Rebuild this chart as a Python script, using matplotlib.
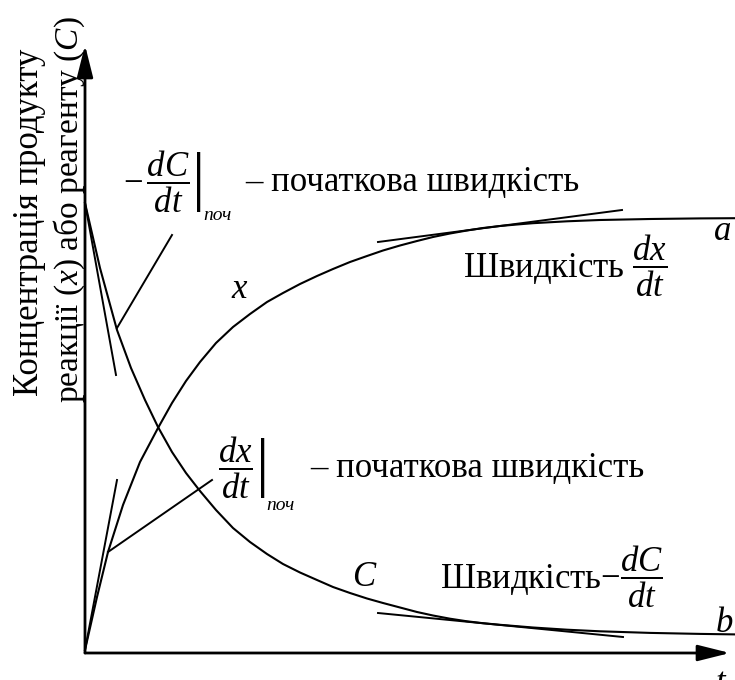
import matplotlib
matplotlib.use('Agg')
import matplotlib.pyplot as plt

plt.rcParams['font.family'] = ['Liberation Serif', 'DejaVu Serif']
plt.rcParams['mathtext.fontset'] = 'custom'
plt.rcParams['mathtext.rm'] = 'Liberation Serif'
plt.rcParams['mathtext.it'] = 'Liberation Serif:italic'
plt.rcParams['mathtext.bf'] = 'Liberation Serif:bold'

# arbitrary units: time t and concentration

# product concentration x(t)
t_x = [0, 12, 23, 38, 55, 73, 87, 101, 115, 131, 148, 165, 182, 198, 215, 232,
       248, 265, 282, 298, 315, 332, 348, 365, 382, 398, 415, 432, 448, 482,
       515, 565, 615, 650]
conc_x = [3, 56, 101, 148, 191, 225, 250, 272, 291, 310, 326, 339, 351, 360,
          369, 377, 384, 391, 397, 402.5, 407.5, 412, 416, 419.5, 422.5, 425,
          427, 428.5, 429.8, 431.7, 433, 434, 434.6, 434.8]

# reagent concentration C(t)
t_c = [0, 15, 32, 46, 60, 73, 87, 101, 115, 131, 148, 165, 182, 198, 215, 232,
       248, 265, 282, 298, 315, 332, 348, 365, 382, 398, 415, 448, 482, 515,
       565, 615, 650]
conc_c = [450, 385, 323, 285, 253, 226, 201, 180, 162, 143, 125, 111, 99, 89,
          80.5, 73, 66, 60, 54.5, 50, 45.5, 41, 37.5, 34.3, 31.7, 29.8, 28.2,
          25.5, 23.3, 21.7, 20.1, 19.1, 18.6]

# tangents (t pair, conc pair)
tan_c0 = ([0, 31], [450, 278])
tan_x0 = ([0, 32], [3, 173])
tan_x1 = ([293, 537], [411, 443])
tan_c1 = ([293, 538], [40, 16])
# leader lines to the formulas
lead_c = ([87, 32], [418, 325])
lead_x = ([23, 127], [101, 173])

t_max = 645
c_max = 608

fig = plt.figure(figsize=(7.35, 6.8), dpi=100)
ax = fig.add_axes([0, 0, 1, 1])
ax.set_xlim(-85, 650)
ax.set_ylim(-27, 653)
ax.axis('off')

ax.plot(t_x, conc_x, color='black', lw=1.5)
ax.plot(t_c, conc_c, color='black', lw=1.5)
for xs, ys in [tan_c0, tan_x0, tan_x1, tan_c1, lead_c, lead_x]:
    ax.plot(xs, ys, color='black', lw=1.4)

# axes with arrows
arrow = dict(arrowstyle='-|>,head_length=1.4,head_width=0.35', color='black',
             lw=2.0, shrinkA=0, shrinkB=0, mutation_scale=14)
ax.annotate('', xy=(0, c_max), xytext=(0, 0), arrowprops=arrow)
ax.annotate('', xy=(t_max, 0), xytext=(0, 0), arrowprops=arrow)

fs = 25
sub = dict(fontsize=14, fontstyle='italic', ha='left', va='center')

ax.text(-55, 431, 'Концентрація продукту', rotation=90, fontsize=fs,
        ha='center', va='center')
ax.text(-16, 443, r'реакції ($x$) або реагенту ($C$)', rotation=90,
        fontsize=24, ha='center', va='center')

# initial rate of reagent consumption
ax.text(38, 471, r'$-\,\left.\dfrac{dC}{dt}\right|$', fontsize=fs,
        ha='left', va='center')
ax.text(118, 437, 'поч', **sub)
ax.text(160, 471, '– початкова швидкість', fontsize=fs, ha='left', va='center')

# initial rate of product formation
ax.text(133, 185, r'$\left.\dfrac{dx}{dt}\right|$', fontsize=fs,
        ha='left', va='center')
ax.text(181, 148, 'поч', **sub)
ax.text(225, 185, '– початкова швидкість', fontsize=fs, ha='left', va='center')

ax.text(378, 387, r'Швидкість $\dfrac{dx}{dt}$', fontsize=fs, ha='left',
        va='center')
ax.text(355, 76, r'Швидкість$-\dfrac{dC}{dt}$', fontsize=fs, ha='left',
        va='center')

ax.text(155, 363, r'$x$', fontsize=fs, ha='center', va='center')
ax.text(280, 75, r'$C$', fontsize=fs, ha='center', va='center')
ax.text(637, 421, r'$a$', fontsize=fs, ha='center', va='center')
ax.text(639, 30, r'$b$', fontsize=fs, ha='center', va='center')
ax.text(636, -14, r'$t$', fontsize=fs, ha='center', va='top')

# tails of the formula above the frame
ax.text(91, 650, r'$dt$', fontsize=fs, ha='center', va='bottom')
ax.text(237, 650, r'$dt$', fontsize=fs, ha='center', va='bottom')

fig.savefig('out.png', dpi=100, facecolor='white')
